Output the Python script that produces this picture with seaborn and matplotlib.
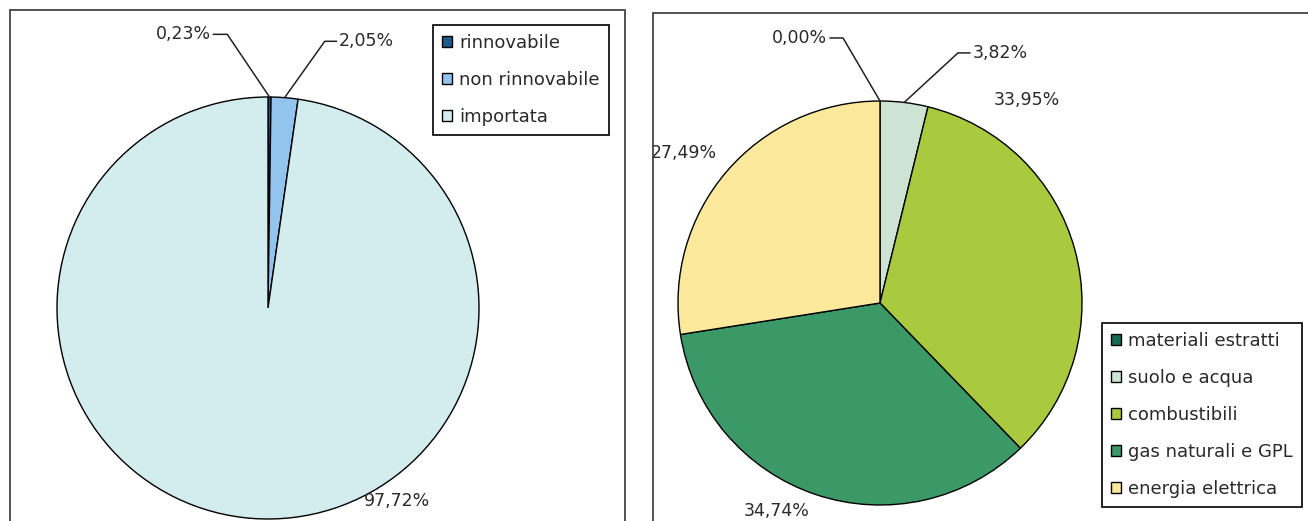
import numpy as np
import matplotlib
matplotlib.use("Agg")
import matplotlib.pyplot as plt
from matplotlib.patches import Rectangle
import seaborn as sns

sns.set_theme(style="white")
plt.rcParams["font.family"] = ["DejaVu Sans"]

# energia per fonte
fonti = ["rinnovabile", "non rinnovabile", "importata"]
fonti_val = [0.23, 2.05, 97.72]
fonti_col = ["#1d5a8a", "#93c4ee", "#d3ecee"]

# energia per voce
voci = ["materiali estratti", "suolo e acqua", "combustibili",
        "gas naturali e GPL", "energia elettrica"]
voci_val = [0.00, 3.82, 33.95, 34.74, 27.49]
voci_col = ["#17694f", "#cde4d4", "#a9c93f", "#3a9966", "#fce99c"]

W, H = 1308, 521
fig = plt.figure(figsize=(W / 100, H / 100), dpi=100)


def fmt(v):
    return f"{v:.2f}".replace(".", ",") + "%"


def asse_torta(cx, cy, r):
    r = r * 1.02
    return fig.add_axes([(cx - r) / W, 1 - (cy + r) / H, 2 * r / W, 2 * r / H])


def torta(ax, valori, colori):
    wedges, _ = ax.pie(valori, colors=sns.color_palette(colori), startangle=90,
                       counterclock=False,
                       wedgeprops=dict(edgecolor="black", linewidth=1.0))
    ax.set_xlim(-1.02, 1.02)
    ax.set_ylim(-1.02, 1.02)
    ax.set_aspect("equal")
    ax.axis("off")
    return wedges


def etichetta(ax, w, testo, tx, ty, gomito=None, ha="center"):
    if gomito is not None:
        ang = np.deg2rad((w.theta1 + w.theta2) / 2)
        ax.plot([np.cos(ang), gomito, tx], [np.sin(ang), ty, ty],
                color="#222222", lw=1.1, clip_on=False)
        tx = tx + (0.012 if ha == "left" else -0.012)
    ax.text(tx, ty, testo, ha=ha, va="center", fontsize=12.5, color="#2a2a2a")


def legenda(handles, labels, x, y):
    leg = fig.legend(handles, labels, loc="upper left",
                     bbox_to_anchor=(x / W, 1 - y / H), frameon=True,
                     fancybox=False, edgecolor="black", framealpha=1,
                     fontsize=13, handlelength=0.55, handleheight=0.55,
                     handletextpad=0.4, labelspacing=1.05, borderpad=0.5,
                     borderaxespad=0)
    for t in leg.get_texts():
        t.set_color("#2a2a2a")
    leg.get_frame().set_linewidth(1.2)


# cornici
for x0, y0, x1, y1 in [(10, 10, 625, 540), (653, 13, 1330, 540)]:
    fig.add_artist(Rectangle((x0 / W, 1 - y1 / H), (x1 - x0) / W, (y1 - y0) / H,
                             transform=fig.transFigure, fill=False,
                             edgecolor="#444444", lw=1.3))

# torta sinistra
ax1 = asse_torta(268, 308, 211)
w1 = torta(ax1, fonti_val, fonti_col)
etichetta(ax1, w1[0], fmt(fonti_val[0]), -0.26, 1.297, gomito=-0.193, ha="right")
etichetta(ax1, w1[1], fmt(fonti_val[1]), 0.325, 1.264, gomito=0.269, ha="left")
etichetta(ax1, w1[2], fmt(fonti_val[2]), 0.61, -0.915)
legenda(w1, fonti, 433, 25)

# torta destra
ax2 = asse_torta(880, 303, 202)
w2 = torta(ax2, voci_val, voci_col)
etichetta(ax2, w2[0], fmt(voci_val[0]), -0.248, 1.312, gomito=-0.183, ha="right")
etichetta(ax2, w2[1], fmt(voci_val[1]), 0.446, 1.238, gomito=0.386, ha="left")
etichetta(ax2, w2[2], fmt(voci_val[2]), 0.728, 1.005)
etichetta(ax2, w2[3], fmt(voci_val[3]), -0.51, -1.03)
etichetta(ax2, w2[4], fmt(voci_val[4]), -0.97, 0.743)
legenda(w2, voci, 1102, 323)

fig.savefig("out.png", dpi=100)
